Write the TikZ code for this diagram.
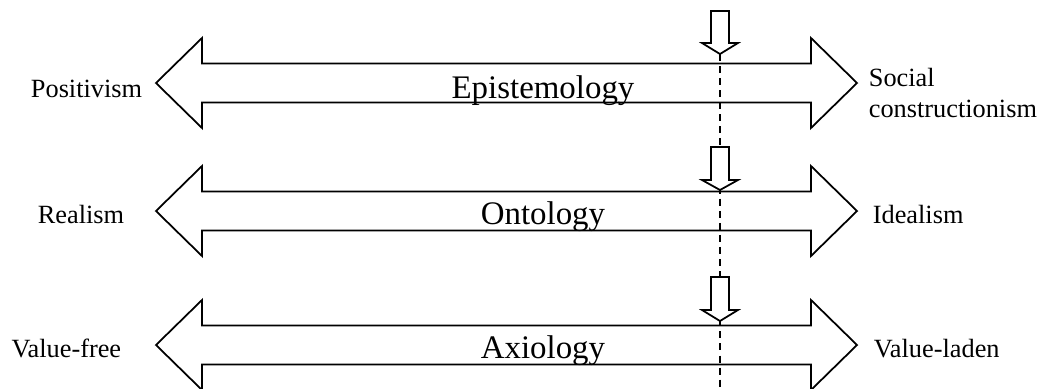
\documentclass[tikz,border=0pt]{standalone}
\usepackage{fontspec}
\setmainfont{Liberation Serif}
\begin{document}
\begin{tikzpicture}[x=0.456pt,y=-0.456pt,line width=0.8pt,
  side/.style={font=\fontsize{12}{14.5}\selectfont,inner sep=0pt},
  title/.style={font=\fontsize{15}{18}\selectfont,inner sep=0pt,anchor=base},
  pointer/.style={draw,fill=white}]
  \useasboundingbox (0,0) rectangle (1041,389);
  % the three scales
  \foreach \c in {83,211,345}
    \draw (156,\c) -- (202,\c-45) -- (202,\c-19.5) -- (811,\c-19.5) -- (811,\c-45) -- (857,\c)
      -- (811,\c+45) -- (811,\c+19.5) -- (202,\c+19.5) -- (202,\c+45) -- cycle;
  \node[title] (epi) at (543,98) {Epistemology};
  \node[title] (onto) at (543,224) {Ontology};
  \node[title] (axio) at (543,358) {Axiology};
  \node[side,anchor=base east] (posi) at (143,97) {Positivism};
  \node[side,anchor=base east] (real) at (125,223) {Realism};
  \node[side,anchor=base east] (vfree) at (122,357) {Value-free};
  \node[side,anchor=west,align=left] (soc) at (868,93) {Social\\constructionism};
  \node[side,anchor=base west] (ideal) at (872,223) {Idealism};
  \node[side,anchor=base west] (vladen) at (873,357) {Value-laden};
  % position line
  \coordinate (top) at (720,54);
  \coordinate (bottom) at (720,389);
  \draw[dash pattern=on 3.2pt off 2.3pt] (top) -- (bottom);
  \foreach \t/\b/\p in {11/43/54,147/180/190,277/310/321}
    \draw[pointer] (711,\t) -- (729,\t) -- (729,\b) -- (738,\b) -- (720,\p) -- (702,\b) -- (711,\b) -- cycle;
\end{tikzpicture}
\end{document}
